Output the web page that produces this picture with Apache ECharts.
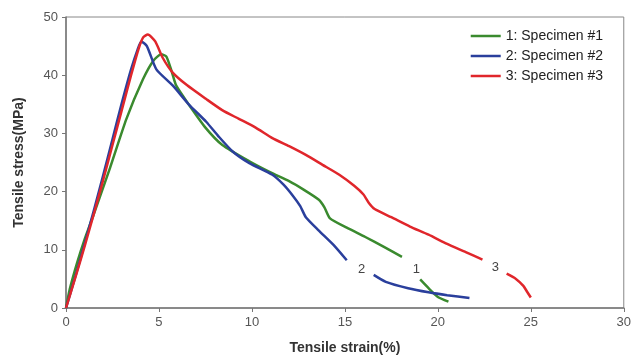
<!DOCTYPE html>
<html lang="en">
<head>
    <meta charset="UTF-8">
    <title>Tensile stress-strain</title>
    <script src="https://cdn.jsdelivr.net/npm/echarts@6/dist/echarts.min.js"></script>
    <style>
        html,body{margin:0;padding:0;background:#fff;}
        #main{width:634px;height:360px;}
    </style>
</head>
<body>
    <div id="main"></div>
    <script>
        // specimen #1 (green) - null = gap where the number label sits
        var strain1 = [0, 0.2, 0.6, 1.0, 1.46, 2.36, 3.25, 4.14, 4.7, 5.12, 5.4, 5.7, 5.93, 6.64, 7.5, 8.41, 9.86, 11, 12, 12.8, 13.6, 13.9, 14.2, 15.1, 16.1, 17.1, 18.07, null, 19.05, 19.5, 20.0, 20.57]
        var stress1 = [0, 3.2, 7.8, 11.8, 15.8, 24, 32.5, 39.3, 42.5, 43.6, 43.2, 40.5, 38.2, 34.8, 31, 28, 25.2, 23.3, 21.8, 20.3, 18.6, 17.3, 15.4, 13.8, 12.2, 10.5, 8.8, null, 4.9, 3.4, 1.9, 1.1]
        // specimen #2 (blue)
        var strain2 = [0, 0.5, 1.0, 1.5, 2.0, 2.5, 3.0, 3.5, 3.85, 4.05, 4.35, 4.86, 5.75, 6.6, 7.54, 8.2, 8.96, 9.86, 11.1, 11.7, 12.2, 12.6, 12.9, 13.6, 14.4, 15.1, null, 16.55, 17.2, 18.4, 19.5, 20.5, 21.7]
        var stress2 = [0, 5.4, 11, 16.8, 22.8, 29, 35.2, 41, 44.4, 45.8, 45, 41, 38.2, 35, 32, 29.5, 26.9, 24.9, 22.9, 21.2, 19.3, 17.5, 15.6, 13.3, 10.8, 8.2, null, 5.7, 4.5, 3.4, 2.7, 2.2, 1.7]
        // specimen #3 (red)
        var strain3 = [0, 0.5, 1.0, 1.5, 2.0, 2.5, 3.0, 3.5, 3.9, 4.15, 4.4, 4.8, 5.2, 5.75, 6.5, 7.54, 8.4, 9.3, 10.2, 11.1, 12, 12.9, 13.8, 14.7, 15.5, 16.0, 16.3, 16.6, 17.5, 18.5, 19.5, 20.5, 21.5, 22.4, null, 23.7, 24.2, 24.6, 24.8, 25]
        var stress3 = [0, 5.2, 10.6, 16.2, 22, 28, 34, 40, 44.5, 46.5, 47, 45.8, 43, 40.4, 38.3, 35.9, 34, 32.5, 31, 29.2, 27.8, 26.3, 24.6, 22.9, 21, 19.5, 18, 17, 15.6, 14, 12.6, 11, 9.6, 8.3, null, 5.9, 5, 3.8, 2.8, 1.8]

        var names = ['1: Specimen #1', '2: Specimen #2', '3: Specimen #3']
        var colors = ['#3a8a2e', '#2a3f9c', '#e0262b']
        // number tags near the curve ends
        var tagText = ['1', '2', '3']
        var tagAt = [[18.85, 6.6], [15.9, 6.6], [23.1, 7.0]]

        function pairs(xs, ys){
            return xs.map(function(x, i){ return ys[i] == null ? [x, '-'] : [x, ys[i]] })
        }
        var allX = [strain1, strain2, strain3]
        var allY = [stress1, stress2, stress3]

        var series = names.map(function(n, i){
            return {
                name: n,
                type: 'line',
                data: pairs(allX[i], allY[i]),
                showSymbol: false,
                symbol: 'none',
                smooth: 0.2,
                connectNulls: false,
                lineStyle: {width: 2.5, color: colors[i]},
                itemStyle: {color: colors[i]},
                markPoint: {
                    symbol: 'circle',
                    symbolSize: 0,
                    label: {show: true, position: 'inside', formatter: tagText[i], color: '#444', fontSize: 13, fontFamily: 'Liberation Sans'},
                    data: [{coord: tagAt[i]}]
                }
            }
        })

        var myChart = echarts.init(document.getElementById('main'))
        var option = {
            animation: false,
            backgroundColor: '#fff',
            textStyle: {fontFamily: 'Liberation Sans'},
            grid: {left: 66, right: 9, top: 17, bottom: 48, show: true, borderColor: '#888', borderWidth: 1},
            legend: {
                orient: 'vertical',
                right: 31,
                top: 28,
                padding: 0,
                icon: 'rect',
                itemWidth: 30,
                itemHeight: 2.5,
                itemGap: 4,
                textStyle: {fontSize: 14, lineHeight: 16, color: '#222', fontFamily: 'Liberation Sans'},
                data: names
            },
            xAxis: {
                type: 'value',
                min: 0, max: 30, interval: 5,
                name: 'Tensile strain(%)',
                nameLocation: 'middle',
                nameGap: 33,
                nameTextStyle: {fontSize: 14, fontWeight: 'bold', color: '#333'},
                axisLine: {lineStyle: {color: '#777', width: 1.5}},
                axisTick: {show: true, length: 4, lineStyle: {color: '#777'}},
                axisLabel: {fontSize: 13, color: '#555', margin: 8},
                splitLine: {show: false}
            },
            yAxis: {
                type: 'value',
                min: 0, max: 50, interval: 10,
                name: 'Tensile stress(MPa)',
                nameLocation: 'middle',
                nameGap: 40,
                nameTextStyle: {fontSize: 14, fontWeight: 'bold', color: '#333'},
                axisLine: {show: true, lineStyle: {color: '#777', width: 1.5}},
                axisTick: {show: true, length: 4, lineStyle: {color: '#777'}},
                axisLabel: {fontSize: 13, color: '#555', margin: 8},
                splitLine: {show: false}
            },
            series: series
        }
        myChart.setOption(option)
    </script>
</body>
</html>
